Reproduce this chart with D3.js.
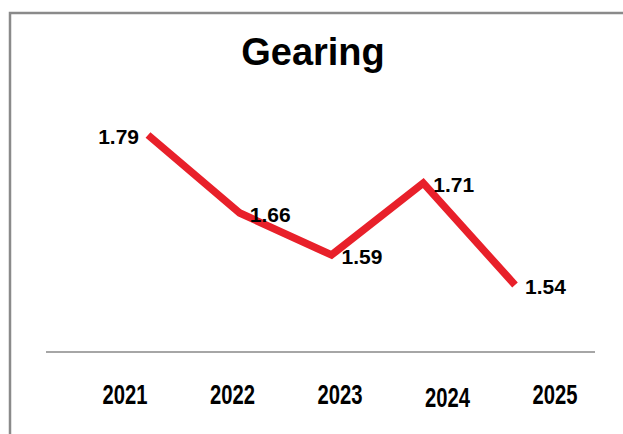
<!DOCTYPE html>
<html>
<head>
    <title>Gearing</title>
    <script src="https://d3js.org/d3.v7.min.js"></script>
    <style>
        body { margin: 0; background: #fff; }
        svg { display: block; }
    </style>
</head>
<body>
<svg id="chart"></svg>
<script>
    // chart values
    const years = ["2021", "2022", "2023", "2024", "2025"];
    const gearing = [1.79, 1.66, 1.59, 1.71, 1.54];
    const title = "Gearing";

    const width = 623, height = 434;
    const svg = d3.select("#chart").attr("width", width).attr("height", height);

    // outer frame (runs off the right and bottom edge)
    svg.append("rect")
        .attr("x", 10).attr("y", 13)
        .attr("width", 700).attr("height", 500)
        .attr("fill", "none")
        .attr("stroke", "#8a8a8a")
        .attr("stroke-width", 2.5);

    svg.append("text")
        .attr("x", 313).attr("y", 65)
        .attr("text-anchor", "middle")
        .style("font-family", "'Liberation Sans', Arial, sans-serif")
        .style("font-weight", "bold")
        .style("font-size", "38px")
        .text(title);

    // category positions for tick labels and for the line
    const xLabel = d3.scalePoint().domain(years).range([125, 555]);
    const xLine = d3.scalePoint().domain(years).range([148, 515]);
    const y = d3.scaleLinear().domain([1.4, 1.9]).range([369, 69]);

    // baseline
    svg.append("line")
        .attr("x1", 46).attr("x2", 595)
        .attr("y1", 352).attr("y2", 352)
        .attr("stroke", "#a6a6a6")
        .attr("stroke-width", 2);

    // narrow, tall year labels (squeezed to the reference width)
    svg.selectAll("text.year")
        .data(years)
        .enter()
        .append("text")
        .attr("class", "year")
        .attr("x", d => xLabel(d))
        .attr("y", (d, i) => i === 3 ? 407 : 404)
        .attr("text-anchor", "middle")
        .attr("textLength", 45)
        .attr("lengthAdjust", "spacingAndGlyphs")
        .style("font-family", "'Liberation Sans', Arial, sans-serif")
        .style("font-weight", "bold")
        .style("font-size", "27px")
        .text(d => d);

    const pts = years.map((d, i) => ({ year: d, v: gearing[i] }));

    const line = d3.line()
        .x(d => xLine(d.year))
        .y(d => y(d.v));

    svg.append("path")
        .datum(pts)
        .attr("d", line)
        .attr("fill", "none")
        .attr("stroke", "#e8202a")
        .attr("stroke-width", 7.5)
        .attr("stroke-linejoin", "miter");

    svg.selectAll("text.val")
        .data(pts)
        .enter()
        .append("text")
        .attr("class", "val")
        .attr("x", (d, i) => xLine(d.year) + (i === 0 ? -9 : 10))
        .attr("y", d => y(d.v) + 9)
        .attr("text-anchor", (d, i) => i === 0 ? "end" : "start")
        .style("font-family", "'Liberation Sans', Arial, sans-serif")
        .style("font-weight", "bold")
        .style("font-size", "21px")
        .text(d => d.v.toFixed(2));
</script>
</body>
</html>
